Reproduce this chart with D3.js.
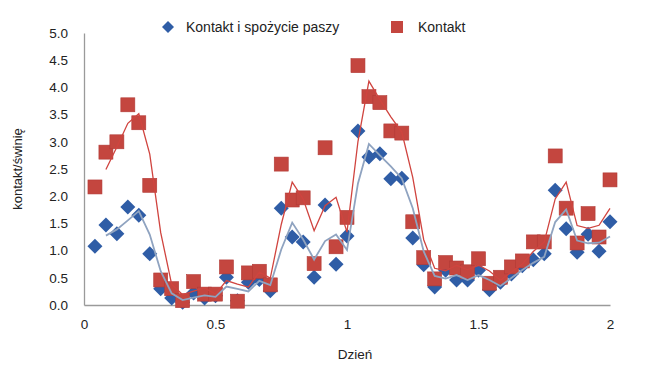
<!DOCTYPE html>
<html>
  <head>
    <meta charset="utf-8">
    <title>Kontakt</title>
    <script src="https://d3js.org/d3.v7.min.js"></script>
    <style>
body { margin: 0; background: #fff; }
text { font-family: "Liberation Sans", Arial, sans-serif; fill: #222; }
    </style>
  </head>
  <body>
<script>
// hours 1..48 of two days, x = hour / 24
var hours = d3.range(1, 49);
var feedContact = [1.08, 1.47, 1.31, 1.80, 1.65, 0.94, 0.30, 0.13, 0.05, 0.22, 0.13, 0.17,
                   0.51, 0.08, 0.42, 0.47, 0.26, 1.78, 1.25, 1.16, 0.51, 1.84, 0.75, 1.27,
                   3.20, 2.72, 2.78, 2.32, 2.33, 1.23, 0.74, 0.33, 0.64, 0.46, 0.46, 0.64,
                   0.28, 0.42, 0.57, 0.72, 0.83, 0.94, 2.11, 1.40, 0.97, 1.30, 0.99, 1.53];
var contact = [2.17, 2.81, 3.00, 3.68, 3.35, 2.20, 0.46, 0.30, 0.08, 0.43, 0.20, 0.20,
               0.70, 0.07, 0.59, 0.62, 0.37, 2.59, 1.93, 1.97, 0.76, 2.89, 1.07, 1.61,
               4.40, 3.83, 3.72, 3.20, 3.16, 1.53, 0.87, 0.48, 0.78, 0.68, 0.61, 0.85,
               0.40, 0.51, 0.70, 0.81, 1.16, 1.16, 2.74, 1.78, 1.14, 1.68, 1.25, 2.30];
var xTicks = [0, 0.5, 1, 1.5, 2];
var yTicks = [0, 0.5, 1, 1.5, 2, 2.5, 3, 3.5, 4, 4.5, 5];
var seriesNames = ["Kontakt i spożycie paszy", "Kontakt"];

var width = 650, height = 366,
    blue = "#2f5da6", red = "#c4463f";

var svg = d3.select("body").append("svg")
  .attr("width", width)
  .attr("height", height);

var x = d3.scaleLinear().domain([0, 2]).range([84, 610]);
var y = d3.scaleLinear().domain([0, 5]).range([305, 33]);

// axes: plain grey lines, no tick marks
var xAxis = svg.append("g")
  .attr("transform", "translate(0," + y(0) + ")")
  .call(d3.axisBottom(x).tickValues(xTicks).tickSize(0).tickPadding(14)
    .tickFormat(function(d) { return d3.format("")(d); }));
var yAxis = svg.append("g")
  .attr("transform", "translate(" + x(0) + ",0)")
  .call(d3.axisLeft(y).tickValues(yTicks).tickSize(0).tickPadding(16)
    .tickFormat(d3.format(".1f")));
[xAxis, yAxis].forEach(function(a) {
  a.select(".domain").attr("stroke", "#9a9a9a").attr("stroke-width", 1.3);
  a.selectAll("text").attr("font-size", 13.5).attr("fill", "#222")
    .attr("font-family", "Liberation Sans, Arial, sans-serif");
});

svg.append("text")
  .attr("x", 355).attr("y", 359)
  .attr("text-anchor", "middle")
  .attr("font-size", 13.5)
  .text("Dzień");
svg.append("text")
  .attr("transform", "translate(22,169) rotate(-90)")
  .attr("text-anchor", "middle")
  .attr("font-size", 13)
  .text("kontakt/świnię");

// a square turned 45 degrees
function diamondPath(r) {
  return "M0," + (-r) + "L" + r + ",0L0," + r + "L" + (-r) + ",0Z";
}

// markers
svg.append("g").selectAll("path").data(feedContact).join("path")
  .attr("d", diamondPath(7.5))
  .attr("transform", function(d, i) {
    return "translate(" + x(hours[i] / 24) + "," + y(d) + ")";
  })
  .attr("fill", blue);

var sq = 14;
svg.append("g").selectAll("rect").data(contact).join("rect")
  .attr("x", function(d, i) { return x(hours[i] / 24) - sq / 2; })
  .attr("y", function(d) { return y(d) - sq / 2; })
  .attr("width", sq).attr("height", sq)
  .attr("fill", red)
  .attr("stroke", "#b23a36")
  .attr("stroke-width", 0.6);

// 2-period moving average trendlines
function movingAvg(vals) {
  return vals.slice(1).map(function(v, i) {
    return { h: hours[i + 1], v: (v + vals[i]) / 2 };
  });
}
var line = d3.line()
  .x(function(d) { return x(d.h / 24); })
  .y(function(d) { return y(d.v); });

svg.append("path")
  .datum(movingAvg(feedContact))
  .attr("d", line)
  .attr("fill", "none")
  .attr("stroke", "#8fa3c0")
  .attr("stroke-width", 1.8);
svg.append("path")
  .datum(movingAvg(contact))
  .attr("d", line)
  .attr("fill", "none")
  .attr("stroke", "#d0443f")
  .attr("stroke-width", 1.3);

// legend
var legend = svg.append("g");
legend.append("path")
  .attr("d", diamondPath(6))
  .attr("transform", "translate(168,27)")
  .attr("fill", blue);
legend.append("text")
  .attr("x", 186).attr("y", 32)
  .attr("font-size", 14)
  .text(seriesNames[0]);
legend.append("rect")
  .attr("x", 391).attr("y", 21).attr("width", 12).attr("height", 12)
  .attr("fill", red);
legend.append("text")
  .attr("x", 418).attr("y", 32)
  .attr("font-size", 14)
  .text(seriesNames[1]);
</script>
  </body>
</html>
